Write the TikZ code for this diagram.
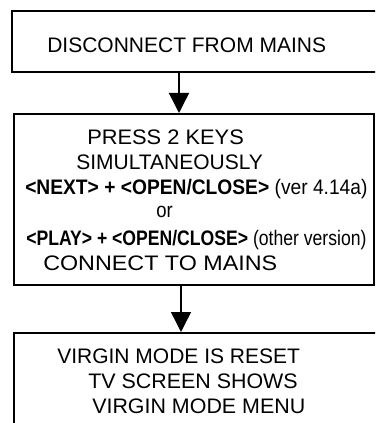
\documentclass[tikz,border=0pt]{standalone}
\usepackage{graphicx}
\usepackage{fontspec}
\setmainfont{Liberation Sans}
\usetikzlibrary{arrows.meta}

\newcommand{\squeezeline}[2]{\scalebox{#1}[1]{#2}}

\tikzset{
  stepbox/.style={draw, shape=rectangle, line width=1.5pt, inner sep=0pt},
  boxline/.style={anchor=base west, inner sep=0pt, font=\fontsize{15.75}{18}\selectfont},
  flowarrow/.style={line width=1.1pt, -{Triangle[width=15pt, length=15pt]}},
}

\begin{document}
\begin{tikzpicture}[x=0.75pt, y=-0.75pt]
	\useasboundingbox (0, 0) rectangle (375, 423);
	\clip (0, 0) rectangle (375, 423);
	% Boxes:
	\node[stepbox, minimum width=279.75pt, minimum height=45.75pt] (disconnect) at (198.5, 41.5){};
	\node[stepbox, minimum width=270pt, minimum height=128.25pt] (press) at (194, 199.5){};
	\node[stepbox, minimum width=278.25pt, minimum height=80.25pt] (reset) at (199.5, 386.5){};
	% Texts:
	\node[boxline] (discline) at (47, 53){DISCONNECT FROM MAINS};
	\node[boxline] (pressa) at (87, 145){\squeezeline{1.04}{PRESS 2 KEYS}};
	\node[boxline] (pressb) at (76, 170){SIMULTANEOUSLY};
	\node[boxline] (pressc) at (25, 195){\squeezeline{0.915}{\textbf{<NEXT> + <OPEN/CLOSE>} (ver 4.14a)}};
	\node[boxline] (pressd) at (156, 218){\squeezeline{0.88}{or}};
	\node[boxline] (presse) at (26, 245){\squeezeline{0.838}{\textbf{<PLAY> + <OPEN/CLOSE>} (other version)}};
	\node[boxline] (pressf) at (43, 270){\squeezeline{1.11}{CONNECT TO MAINS}};
	\node[boxline] (reseta) at (57, 363){VIRGIN MODE IS RESET};
	\node[boxline] (resetb) at (88, 388){\squeezeline{1.02}{TV SCREEN SHOWS}};
	\node[boxline] (resetc) at (92, 413){\squeezeline{1.02}{VIRGIN MODE MENU}};
	% Arrows:
	\coordinate (afirst) at (179, 0);
	\coordinate (asecond) at (181, 0);
	\draw[flowarrow] (disconnect.south -| afirst) -- (press.north -| afirst);
	\draw[flowarrow] (press.south -| asecond) -- (reset.north -| asecond);
\end{tikzpicture}
\end{document}
